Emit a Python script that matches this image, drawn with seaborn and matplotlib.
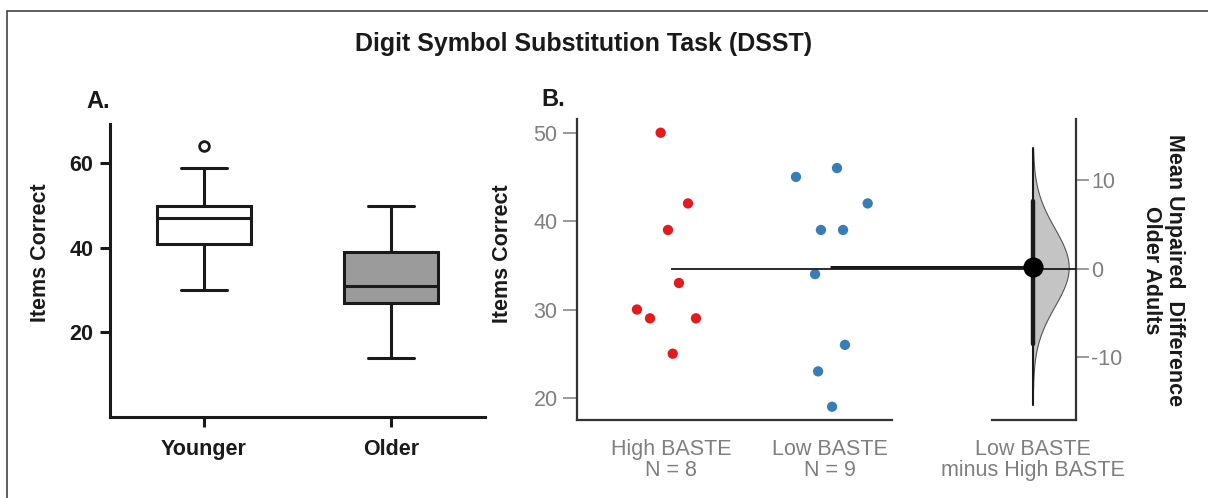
import numpy as np
import pandas as pd
import matplotlib
matplotlib.use("Agg")
import matplotlib.pyplot as plt
from matplotlib.patches import Rectangle
import seaborn as sns

# ---- Panel A: five-number summaries per age group ----
age_groups = ["Younger", "Older"]
box_q1 = [41, 27]
box_median = [47, 31]
box_q3 = [50, 39]
whisker_low = [30, 14]
whisker_high = [59, 50]
box_outliers = [[64], []]
box_colors = ["white", "#9b9b9b"]

# ---- Panel B: older adults split by BASTE score ----
high_baste = [50, 42, 39, 33, 30, 29, 29, 25]
low_baste = [45, 46, 42, 39, 39, 34, 26, 23, 19]
# horizontal jitter of each point within its column
high_jitter = [-0.065, 0.107, -0.019, 0.05, -0.214, -0.132, 0.157, 0.011]
low_jitter = [-0.214, 0.044, 0.237, -0.057, 0.082, -0.094, 0.094, -0.075, 0.013]

# bootstrap summary of the mean difference (Low minus High)
diff_ci = [-8.5, 7.7]
diff_range = [-15.4, 13.6]
diff_ticks = [-10, 0, 10]

sns.set_theme(style="ticks")
plt.rcParams["font.family"] = ["Liberation Sans", "DejaVu Sans"]
plt.rcParams["axes.unicode_minus"] = False

W, H = 1208, 498
fig = plt.figure(figsize=(W / 100, H / 100), dpi=100)
fig.patch.set_facecolor("white")


def fx(px):
    return px / W


def fy(py):
    return 1 - py / H


DARK = "#1a1a1a"
GRAY_TXT = "#7f7f7f"
FS = 15.5

# outer frame
fig.patches.append(Rectangle((fx(7), -0.05), 1.2, fy(10.7) + 0.05, transform=fig.transFigure,
                             fill=False, edgecolor="#444444", lw=1.2))

fig.text(fx(584), fy(44), "Digit Symbol Substitution Task (DSST)", ha="center", va="center",
         fontsize=18, fontweight="bold", color=DARK)
fig.text(fx(86), fy(101), "A.", ha="left", va="center", fontsize=17, fontweight="bold", color=DARK)
fig.text(fx(541), fy(99), "B.", ha="left", va="center", fontsize=17, fontweight="bold", color=DARK)

# ---------------- Panel A ----------------
axA = fig.add_axes([fx(110), fy(417), fx(375), (417 - 124) / H])
stats = []
for i, g in enumerate(age_groups):
    stats.append(dict(label=g, q1=box_q1[i], med=box_median[i], q3=box_q3[i],
                      whislo=whisker_low[i], whishi=whisker_high[i], fliers=box_outliers[i]))
lw = 2.2
bp = axA.bxp(stats, positions=[0, 1], widths=0.5, capwidths=0.245, patch_artist=True,
             showfliers=True,
             boxprops=dict(linewidth=lw, edgecolor=DARK),
             medianprops=dict(color=DARK, linewidth=lw),
             whiskerprops=dict(color=DARK, linewidth=lw),
             capprops=dict(color=DARK, linewidth=lw),
             flierprops=dict(marker="o", markerfacecolor="white", markeredgecolor=DARK,
                             markersize=7, markeredgewidth=2))
for patch, c in zip(bp["boxes"], box_colors):
    patch.set_facecolor(c)
axA.set_xlim(-0.5, 1.5)
axA.set_ylim(0, 69.3)
axA.set_yticks([20, 40, 60])
axA.set_xticks([0, 1])
axA.set_xticklabels(age_groups)
for s in ["top", "right"]:
    axA.spines[s].set_visible(False)
for s in ["left", "bottom"]:
    axA.spines[s].set_linewidth(2.2)
    axA.spines[s].set_color(DARK)
axA.tick_params(axis="both", length=7, width=2.2, color=DARK, labelsize=FS, labelcolor=DARK)
axA.tick_params(axis="x", pad=9)
axA.tick_params(axis="y", pad=5)
for lab in axA.get_xticklabels() + axA.get_yticklabels():
    lab.set_fontweight("bold")
axA.set_facecolor("white")
fig.text(fx(41), fy(253), "Items Correct", rotation=90, ha="center", va="center",
         fontsize=FS, fontweight="bold", color=DARK)

# ---------------- Panel B ----------------
x_left, x_right = -0.591, 2.545
diff_pos = 2.275
axB = fig.add_axes([fx(577), fy(420), fx(498.7), (420 - 119) / H])
axB.set_facecolor("white")

df = pd.DataFrame({
    "x": [0 + j for j in high_jitter] + [1 + j for j in low_jitter],
    "score": high_baste + low_baste,
    "group": ["High BASTE"] * len(high_baste) + ["Low BASTE"] * len(low_baste),
})
sns.scatterplot(data=df, x="x", y="score", hue="group",
                palette={"High BASTE": "#e41a1c", "Low BASTE": "#377eb8"},
                s=55, linewidth=0, legend=False, ax=axB, zorder=3)
axB.set_xlim(x_left, x_right)
axB.set_ylim(17.5, 51.55)
axB.set_yticks([20, 30, 40, 50])
axB.set_xticks([0, 1, diff_pos])
axB.set_xticklabels([f"High BASTE\nN = {len(high_baste)}",
                     f"Low BASTE\nN = {len(low_baste)}",
                     "Low BASTE\nminus High BASTE"])
axB.set_xlabel("")
axB.set_ylabel("")
axB.spines["top"].set_visible(False)
axB.spines["right"].set_visible(False)
axB.spines["left"].set_color("#333333")
axB.spines["left"].set_linewidth(1.6)
axB.spines["bottom"].set_color("#333333")
axB.spines["bottom"].set_linewidth(1.6)
axB.spines["bottom"].set_bounds(x_left, 1.39)
axB.tick_params(axis="y", length=10, width=1.2, color="#888888", labelsize=FS,
                labelcolor=GRAY_TXT, pad=4)
axB.tick_params(axis="x", length=0, labelsize=FS, labelcolor=GRAY_TXT, pad=14)
for lab in axB.get_xticklabels():
    lab.set_linespacing(1.0)
fig.text(fx(502), fy(254), "Items Correct", rotation=90, ha="center", va="center",
         fontsize=FS, fontweight="bold", color=DARK)

mean_high = float(np.mean(high_baste))
mean_low = float(np.mean(low_baste))
mean_diff = mean_low - mean_high

# difference axis, zero aligned with the High BASTE mean
axD = axB.twinx()
lo, hi = axB.get_ylim()
axD.set_ylim(lo - mean_high, hi - mean_high)
axD.set_yticks(diff_ticks)
axD.spines["top"].set_visible(False)
axD.spines["left"].set_visible(False)
axD.spines["right"].set_color("#333333")
axD.spines["right"].set_linewidth(1.6)
axD.spines["bottom"].set_color("#333333")
axD.spines["bottom"].set_linewidth(1.6)
axD.spines["bottom"].set_bounds(2.019, x_right)
axD.tick_params(axis="y", length=9, width=1.2, color="#888888", labelsize=FS,
                labelcolor=GRAY_TXT, pad=2)

# half-violin of the sampling distribution of the difference
se = np.sqrt(np.var(high_baste, ddof=1) / len(high_baste) + np.var(low_baste, ddof=1) / len(low_baste))
yy = np.linspace(diff_range[0], diff_range[1], 300)
dens = np.exp(-0.5 * ((yy - mean_diff) / se) ** 2)
half_width = 0.226
axD.fill_betweenx(yy, diff_pos, diff_pos + half_width * dens / dens.max(),
                  facecolor="#c4c4c4", edgecolor="#555555", linewidth=0.8, zorder=2)

# group-mean reference lines
axD.plot([0, x_right], [0, 0], color=DARK, lw=1.3, zorder=3, solid_capstyle="butt")
axD.plot([1, diff_pos], [mean_diff, mean_diff], color=DARK, lw=2.2, zorder=3, solid_capstyle="butt")
axD.plot([diff_pos, diff_pos], diff_range, color=DARK, lw=1.5, zorder=4)
axD.plot([diff_pos, diff_pos], diff_ci, color=DARK, lw=3.2, zorder=4)
axD.plot([diff_pos], [mean_diff], marker="o", markersize=13.5, color="black", zorder=5)
axD.set_xlim(x_left, x_right)

fig.text(fx(1163), fy(270), "Mean Unpaired  Difference\nOlder Adults", rotation=270,
         ha="center", va="center", multialignment="center", fontsize=FS,
         fontweight="bold", color=DARK, linespacing=1.15)

fig.savefig("out.png", dpi=100, facecolor="white")
